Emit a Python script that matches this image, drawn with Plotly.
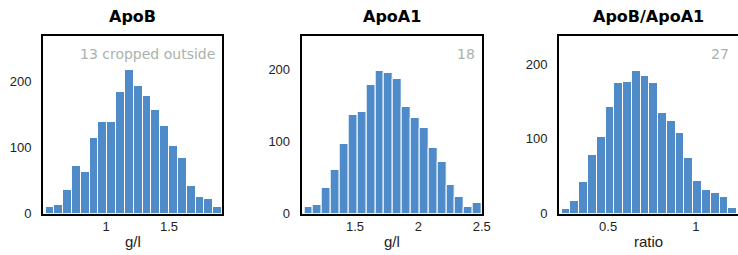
import plotly.graph_objects as go

# ---- data ----
apob_start, apob_width = 0.52, 0.07
apob_counts = [10, 13, 35, 72, 62, 114, 138, 138, 183, 216, 192, 177, 156, 132, 102, 84, 41, 25, 22, 10]

apoa1_start, apoa1_width = 1.10, 0.07
apoa1_counts = [9, 12, 35, 60, 97, 136, 141, 178, 198, 195, 187, 147, 133, 119, 91, 72, 40, 23, 9, 14]

ratio_start, ratio_width = 0.235, 0.05
ratio_counts = [6, 17, 42, 79, 103, 143, 175, 176, 191, 185, 175, 135, 124, 108, 74, 44, 31, 27, 22, 8]

titles = ["ApoB", "ApoA1", "ApoB/ApoA1"]
units = ["g/l", "g/l", "ratio"]
cropped_notes = ["13 cropped outside", "18", "27"]
x_ranges = [[0.5, 1.92], [1.08, 2.5], [0.22, 1.24]]
y_ranges = [[0, 268], [0, 246], [0, 238]]
x_ticks = [[1, 1.5], [1.5, 2, 2.5], [0.5, 1]]
x_ticklabels = [["1", "1.5"], ["1.5", "2", "2.5"], ["0.5", "1"]]
y_ticks = [0, 100, 200]

series = [
    (apob_start, apob_width, apob_counts),
    (apoa1_start, apoa1_width, apoa1_counts),
    (ratio_start, ratio_width, ratio_counts),
]

W, H = 738, 255
domains_px = [(43, 222), (301.7, 481.7), (559, 738)]
y_dom = [1 - 213.5 / H, 1 - 36 / H]

BAR = "#4f8bc9"
FONT = "Liberation Sans"
TITLE_FONT = "DejaVu Sans"
NOTE_FONT = "DejaVu Sans"

fig = go.Figure()
layout = dict(
    template="none",
    width=W, height=H,
    margin=dict(l=0, r=0, t=0, b=0, pad=0, autoexpand=False),
    paper_bgcolor="white", plot_bgcolor="white",
    showlegend=False,
    bargap=0,
    font=dict(family=FONT, size=13, color="#222"),
)
annotations = []

for i, (start, w, counts) in enumerate(series):
    n = i + 1
    xa = "x" if n == 1 else f"x{n}"
    ya = "y" if n == 1 else f"y{n}"
    centers = [start + w * (k + 0.5) for k in range(len(counts))]
    fig.add_trace(go.Bar(
        x=centers, y=counts, width=[w] * len(counts),
        marker=dict(color=BAR, line=dict(color="white", width=1)),
        xaxis=xa, yaxis=ya, hoverinfo="x+y",
    ))
    d0, d1 = domains_px[i]
    xkey = "xaxis" if n == 1 else f"xaxis{n}"
    ykey = "yaxis" if n == 1 else f"yaxis{n}"
    layout[xkey] = dict(
        domain=[d0 / W, d1 / W], range=x_ranges[i], anchor=ya, automargin=False,
        showline=True, linecolor="black", linewidth=2, mirror=True,
        showgrid=False, zeroline=False, ticks="",
        tickvals=x_ticks[i], ticktext=x_ticklabels[i],
        tickfont=dict(size=13, color="#222"),
    )
    layout[ykey] = dict(
        domain=y_dom, range=y_ranges[i], anchor=xa, automargin=False,
        showline=True, linecolor="black", linewidth=2, mirror=True,
        showgrid=False, zeroline=False, ticks="",
        tickvals=y_ticks, tickfont=dict(size=13, color="#222"),
        ticklabelstandoff=7,
    )
    cx = (d0 + d1) / 2 / W
    annotations.append(dict(
        text=f"<b>{titles[i]}</b>", x=cx, y=1 - 17 / H, xref="paper", yref="paper",
        showarrow=False, xanchor="center", yanchor="middle",
        font=dict(family=TITLE_FONT, size=16, color="black"),
    ))
    annotations.append(dict(
        text=units[i], x=cx, y=1 - 241 / H, xref="paper", yref="paper",
        showarrow=False, xanchor="center", yanchor="middle",
        font=dict(family=FONT, size=15, color="#222"),
    ))
    annotations.append(dict(
        text=cropped_notes[i], x=(d1 - 5) / W if i < 2 else (731) / W, y=1 - 53.5 / H,
        xref="paper", yref="paper",
        showarrow=False, xanchor="right", yanchor="middle",
        font=dict(family=NOTE_FONT, size=14, color="#a9b2ab"),
    ))

layout["annotations"] = annotations
fig.update_layout(**layout)
fig.write_html(
    "out.html",
    config={"displayModeBar": False},
    post_script=(
        "document.documentElement.style.margin='0';"
        "document.documentElement.style.overflow='hidden';"
        "document.body.style.margin='0';"
        "document.body.style.overflow='hidden';"
    ),
)
